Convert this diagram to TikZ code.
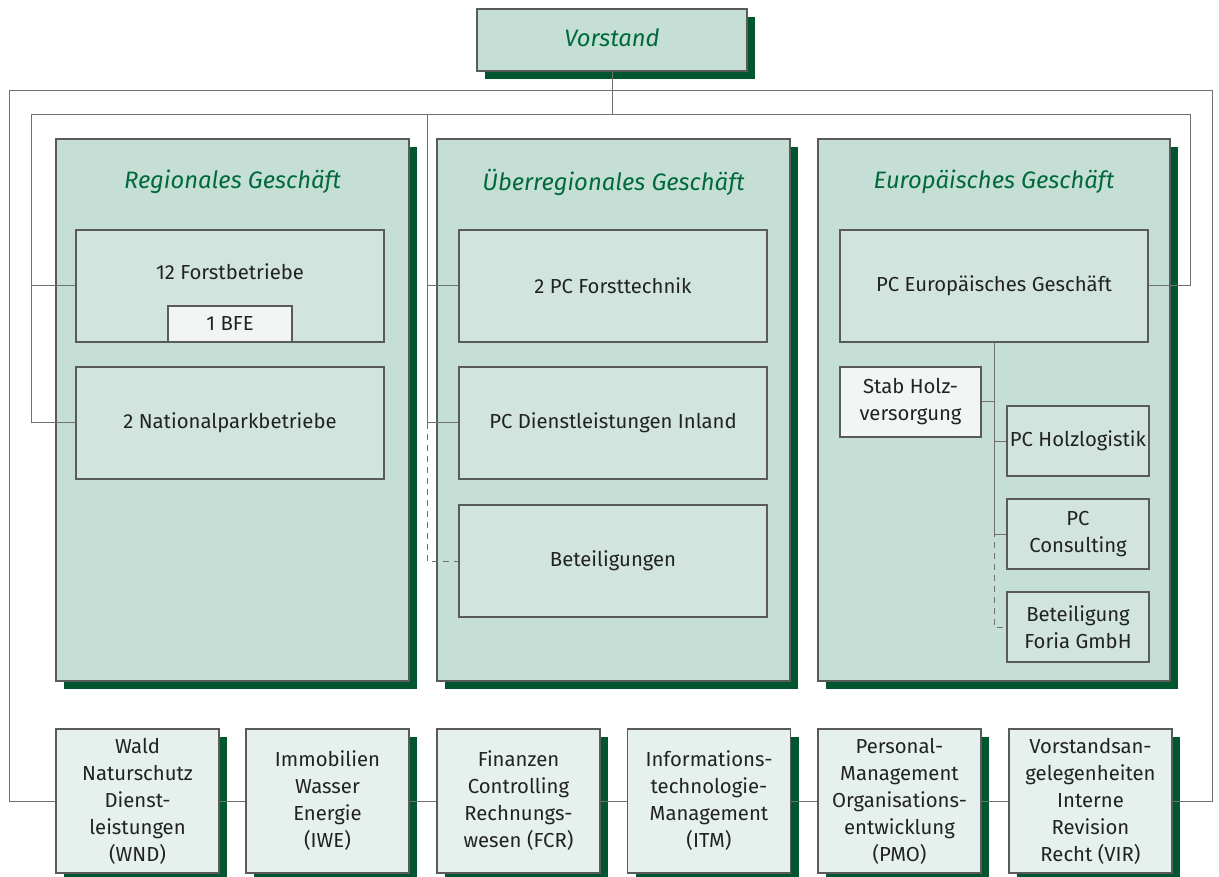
\documentclass[tikz,border=0pt]{standalone}
\usepackage{fontspec}
\setmainfont{Fira Sans}
\usetikzlibrary{shadows}
\definecolor{colfill}{HTML}{C6DFD6}
\definecolor{boxfill}{HTML}{D1E5DE}
\definecolor{rowfill}{HTML}{E6F0EC}
\definecolor{paleFill}{HTML}{F1F6F4}
\definecolor{shadowgreen}{HTML}{00572F}
\definecolor{titlegreen}{HTML}{006A3C}
\definecolor{edgegrey}{HTML}{5A5A5A}
\definecolor{linkgrey}{HTML}{707070}
\definecolor{txt}{HTML}{222222}
\begin{document}
\begin{tikzpicture}[x=1pt,y=-1pt,
  shadowed/.style={drop shadow={shadow xshift=8pt,shadow yshift=-8pt,fill=shadowgreen,opacity=1}},
  base/.style={rectangle,draw=edgegrey,line width=1.1pt,inner sep=0pt,text=txt,
    font=\fontsize{20.3}{27}\selectfont,align=center},
  headbox/.style={base,fill=colfill,shadowed,minimum width=270pt,minimum height=62pt},
  colbox/.style={base,fill=colfill,shadowed,minimum width=353pt,minimum height=542pt},
  title/.style={text=titlegreen,font=\fontsize{23.8}{28}\selectfont\itshape},
  unitbox/.style={base,fill=boxfill,minimum width=308pt,minimum height=112pt},
  smallbox/.style={base,fill=boxfill,minimum width=142pt,minimum height=70pt},
  palebox/.style={base,fill=paleFill},
  rowbox/.style={base,fill=rowfill,shadowed,minimum width=163pt,minimum height=144pt},
  link/.style={draw=linkgrey,line width=1pt},
  dlink/.style={link,dash pattern=on 6pt off 5pt}]

\useasboundingbox (0,0) rectangle (1219,877);

% Board
\node[headbox] (vorstand) at (612,40) {};
\node[title] (vorstandT) at (612,38) {Vorstand};

% Three business divisions
\node[colbox] (reg) at (232.5,410) {};
\node[colbox] (ueb) at (613.5,410) {};
\node[colbox,minimum width=352pt] (eur) at (994,410) {};
\node[title] (regT) at (232.5,182) {Regionales Geschäft};
\node[title] (uebT) at (613.5,182) {Überregionales Geschäft};
\node[title] (eurT) at (994,182) {Europäisches Geschäft};

% Staff departments
\node[rowbox] (w1) at (137.5,801) {Wald\\Naturschutz\\Dienst-\\leistungen\\(WND)};
\node[rowbox] (w2) at (327.5,801) {Immobilien\\Wasser\\Energie\\(IWE)};
\node[rowbox] (w3) at (518.5,801) {Finanzen\\Controlling\\Rechnungs-\\wesen (FCR)};
\node[rowbox] (w4) at (709,801) {Informations-\\technologie-\\Management\\(ITM)};
\node[rowbox] (w5) at (899.5,801) {Personal-\\Management\\Organisations-\\entwicklung\\(PMO)};
\node[rowbox] (w6) at (1090.5,801) {Vorstandsan-\\gelegenheiten\\Interne\\Revision\\Recht (VIR)};

% Connector frame
\coordinate (oL) at (9,91);
\coordinate (oR) at (1212,91);
\coordinate (iL) at (31,115);
\coordinate (iR) at (1190,115);
\coordinate (mV) at (427,115);

\draw[link] (vorstand.south) -- (vorstand.south |- iL);
\draw[link] (w1.west) -| (oL) -- (oR) |- (w6.east);
\foreach \a/\b in {w1/w2,w2/w3,w3/w4,w4/w5,w5/w6}
  \draw[link] (\a.east) -- (\b.west);

% Units
\node[unitbox] (forst) at (230,286) {};
\node (forstT) at (230,272) [text=txt,font=\fontsize{20.3}{27}\selectfont] {12 Forstbetriebe};
\node[palebox,minimum width=124pt,minimum height=36pt] (bfe) at (230,324) {1 BFE};
\node[unitbox] (natpark) at (230,423) {2 Nationalparkbetriebe};

\node[unitbox] (ftech) at (613,286) {2 PC Forsttechnik};
\node[unitbox] (dienst) at (613,423) {PC Dienstleistungen Inland};
\node[unitbox] (beteil) at (613,561) {Beteiligungen};

\node[unitbox] (pceur) at (994,286) {PC Europäisches Geschäft};
\node[palebox,minimum width=141pt,minimum height=70pt] (stab) at (910.5,402) {Stab Holz-\\versorgung};
\node[smallbox] (holz) at (1078,441) {PC Holzlogistik};
\node[smallbox] (cons) at (1078,534) {PC\\Consulting};
\node[smallbox] (foria) at (1078,627) {Beteiligung\\Foria GmbH};

% Links to units
\draw[link] (forst.west) -| (iL) -- (iR) |- (pceur.east);
\draw[link] (natpark.west) -| (iL);
\draw[link] (mV) |- (ftech.west);
\draw[link] (mV) |- (dienst.west);
\draw[dlink] (dienst.west -| mV) |- (beteil.west);

\draw[link] (pceur.south) -- (pceur.south |- cons.west);
\draw[link] (stab.east) -- (stab.east -| pceur.south);
\draw[link] (holz.west) -- (holz.west -| pceur.south);
\draw[link] (cons.west) -- (cons.west -| pceur.south);
\draw[dlink] (pceur.south |- cons.north) |- (foria.west);

\end{tikzpicture}
\end{document}
